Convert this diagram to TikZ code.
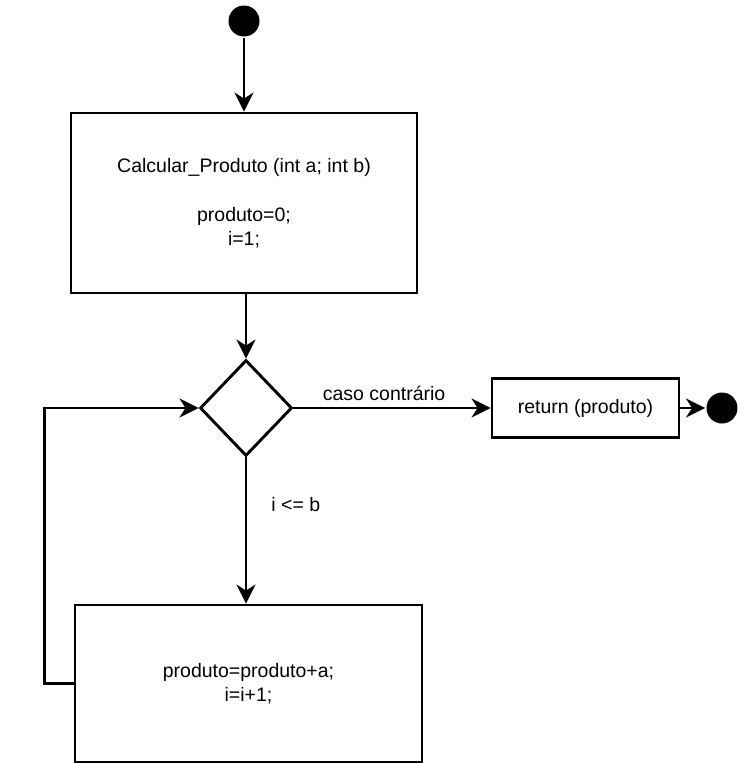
\documentclass[tikz,border=0pt]{standalone}
\usepackage{fontspec}
\setmainfont{Liberation Sans}
\usetikzlibrary{shapes.geometric,arrows.meta}
\begin{document}
\begin{tikzpicture}[x=1pt, y=-1pt, line width=2.9pt,
every node/.style={font=\fontsize{19.5}{24.5}\selectfont},
box/.style={draw, rectangle, align=center, inner sep=0pt},
cond/.style={draw, diamond, minimum width=92pt, minimum height=96pt, inner sep=0pt},
dot/.style={fill, circle, minimum size=31pt, inner sep=0pt},
arr/.style={-{Stealth[length=19pt, width=19pt, inset=6pt]}}]
\useasboundingbox (0,0) rectangle (744,763);
\node[dot] (ini) at (244,21) {};
\node[box, minimum width=346pt, minimum height=180pt] (calc) at (244,203)
    {Calcular\_Produto (int a; int b)\\[24.5pt]produto=0;\\i=1;};
\node[cond] (dec) at (246,408) {};
\node[box, minimum width=187pt, minimum height=59pt] (ret) at (585.5,408) {return (produto)};
\node[dot] (fim) at (722,408) {};
\node[box, minimum width=347pt, minimum height=157pt] (laco) at (248.5,683.5)
    {produto=produto+a;\\i=i+1;};
% ligacoes
\draw[arr] (ini) -- (ini |- calc.north);
\draw[arr] (calc.south -| dec.north) -- (dec.north);
\draw[arr] (dec.east) -- node[pos=0.46, above=6pt, inner sep=0pt] (lblfalso) {caso contrário} (ret.west);
\draw[arr] (ret.east) -- (fim.west);
\draw[arr] (dec.south) -- node[pos=0.32, right=24pt, inner sep=0pt] (lblverd) {i <= b} (dec.south |- laco.north);
\draw[arr] (laco.west) -- ++(-29,0) |- (dec.west);
\end{tikzpicture}
\end{document}
